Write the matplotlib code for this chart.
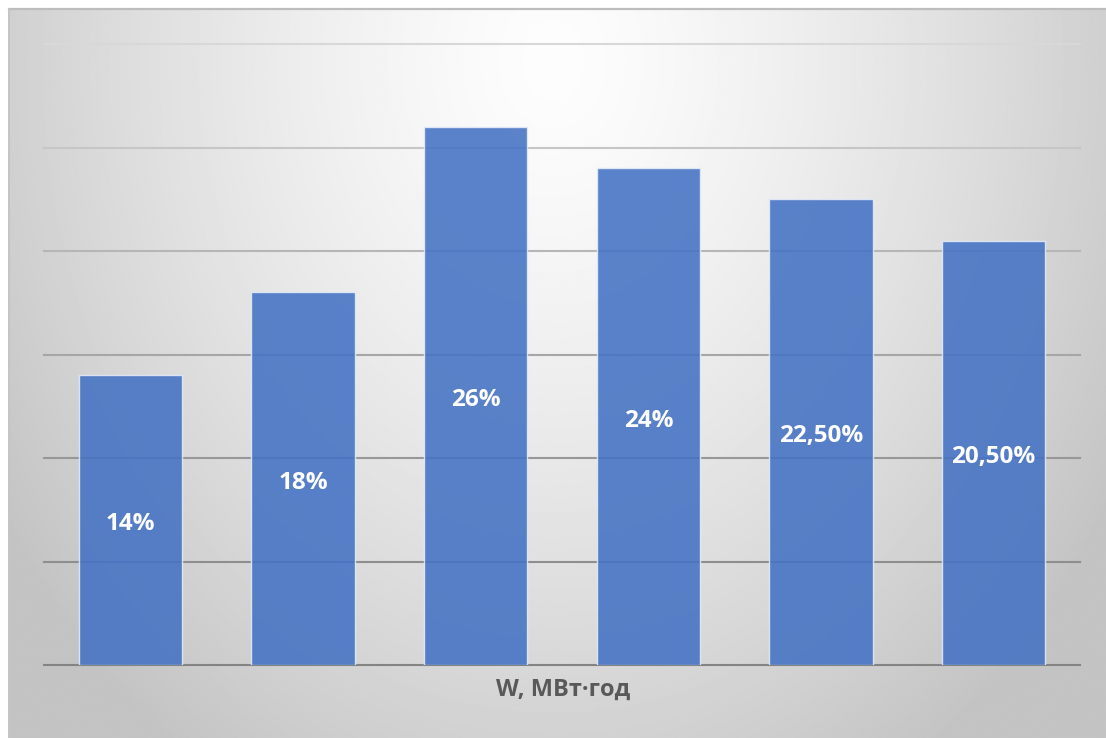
import numpy as np
import matplotlib
matplotlib.use("Agg")
import matplotlib.pyplot as plt
from matplotlib.lines import Line2D

# -----------------------------
# 1. DATA
# -----------------------------
values = [14, 18, 26, 24, 22.5, 20.5]
value_labels = ['14%', '18%', '26%', '24%', '22,50%', '20,50%']
y_ticks = [0, 5, 10, 15, 20, 25, 30]
x_title = 'W, МВт·год'

plt.rcParams['font.family'] = ['Open Sans', 'DejaVu Sans']

W, H = 1106, 738
fig = plt.figure(figsize=(W / 100, H / 100), dpi=100, facecolor='white')

# -----------------------------
# 2. BACKGROUND (radial gradient, light at top centre)
# -----------------------------
x0, y0 = 9, 9
bg = fig.add_axes([x0 / W, 0, 1 - x0 / W, (H - y0) / H], zorder=-5)
gx = np.linspace(x0, W, 600)
gy = np.linspace(y0, H, 400)
XX, YY = np.meshgrid(gx, gy)
r = np.sqrt(((XX - 553) / 540) ** 2 + ((YY - 60) / 690) ** 2)
shade = np.clip(253 - 44 * r ** 1.35, 196, 253) / 255
bg.imshow(shade, cmap='gray', vmin=0, vmax=1, aspect='auto',
          extent=[x0, W, H, y0], interpolation='bilinear')
bg.set_xlim(x0, W)
bg.set_ylim(H, y0)
bg.axis('off')

# thin frame edge at top and left
fig.add_artist(Line2D([x0 / W, 1], [1 - y0 / H, 1 - y0 / H], color='#bdbdbd', lw=1.6))
fig.add_artist(Line2D([x0 / W, x0 / W], [0, 1 - y0 / H], color='#c4c4c4', lw=1.4))

# -----------------------------
# 3. BARS
# -----------------------------
ax = fig.add_axes([44 / W, (H - 665) / H, (1080 - 44) / W, (665 - 44) / H])
ax.patch.set_alpha(0)
x = np.arange(len(values))
bars = ax.bar(x, values, width=0.6, color='#4472C4', alpha=0.88,
              edgecolor='#e4ecf8', linewidth=1.0, zorder=3)

for xi, v, lab in zip(x, values, value_labels):
    ax.annotate(lab, (xi, v / 2), xytext=(0, -3), textcoords='offset points',
                ha='center', va='center', color='white',
                fontsize=17.5, fontweight='bold', zorder=4)

ax.set_xlim(-0.5, len(values) - 0.5)
ax.set_ylim(0, 30)
ax.set_yticks(y_ticks)
ax.set_xticks([])
ax.tick_params(axis='y', length=0, labelleft=False)
ax.grid(axis='y', linewidth=1.5, zorder=1)
ax.set_axisbelow(True)

# gridlines fade toward the top
grid_colors = ['#848484', '#8e8e8e', '#989898', '#a6a6a6', '#b6b6b6', '#c6c6c6', '#d8d8d8']
for gl, c in zip(ax.get_ygridlines(), grid_colors):
    gl.set_color(c)
    gl.set_clip_on(False)

for s in ax.spines.values():
    s.set_visible(False)

fig.text(563 / W, 1 - 690 / H, x_title, ha='center', va='center',
         fontsize=17, fontweight='bold', color='#595959')

fig.savefig('out.png', dpi=100)
